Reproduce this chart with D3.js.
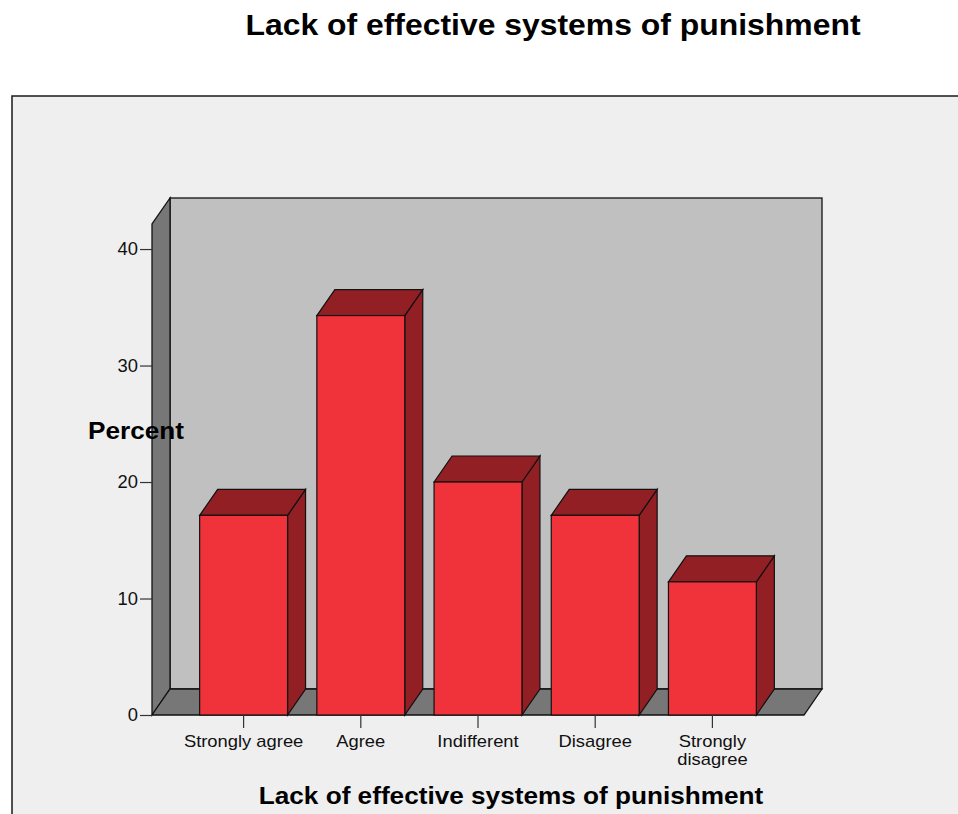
<!DOCTYPE html>
<html>
<head>
<meta charset="utf-8">
<script src="https://cdn.jsdelivr.net/npm/d3@7"></script>
<style>
html,body{margin:0;padding:0;background:#fff;}
svg{display:block;font-family:Arial,"Liberation Sans",sans-serif;}
</style>
</head>
<body>
<svg id="chart" width="958" height="814"></svg>
<script>
const categories = ["Strongly agree", "Agree", "Indifferent", "Disagree", "Strongly disagree"];
const percents = [17.14, 34.29, 20.0, 17.14, 11.43];
const yTicks = [0, 10, 20, 30, 40];
const title = "Lack of effective systems of punishment";
const xTitle = "Lack of effective systems of punishment";
const yTitle = "Percent";

const svg = d3.select("#chart");
const DX = 18, DY = -26;
const x0 = 152, x1 = 804, yBase = 715, yTop = 224;

const y = d3.scaleLinear().domain([0, 42.15]).range([yBase, yTop]);
const x = d3.scaleBand().domain(categories).range([185, 771]).paddingInner(0.25).paddingOuter(0.125);

// panel
svg.append("rect").attr("x", 12).attr("y", 96).attr("width", 980).attr("height", 760)
  .attr("fill", "#efefef").attr("stroke", "#1a1a1a").attr("stroke-width", 1.5);

// title
const titleEl = svg.append("text").attr("x", 553).attr("y", 35).attr("text-anchor", "middle")
  .attr("font-size", 29).attr("font-weight", "bold").attr("fill", "#000").text(title);

const stroke = "#111";
// back wall
svg.append("rect").attr("x", x0 + DX).attr("y", yTop + DY).attr("width", x1 - x0).attr("height", yBase - yTop)
  .attr("fill", "#c0c0c0").attr("stroke", stroke).attr("stroke-width", 1.3);
// left wall
svg.append("path").attr("d", `M${x0},${yBase}L${x0 + DX},${yBase + DY}L${x0 + DX},${yTop + DY}L${x0},${yTop}Z`)
  .attr("fill", "#777777").attr("stroke", stroke).attr("stroke-width", 1.3);
// floor
svg.append("path").attr("d", `M${x0},${yBase}L${x1},${yBase}L${x1 + DX},${yBase + DY}L${x0 + DX},${yBase + DY}Z`)
  .attr("fill", "#777777").attr("stroke", stroke).attr("stroke-width", 1.3);

// bars
const bars = svg.append("g");
categories.forEach((c, i) => {
  const v = percents[i];
  const bx = x(c), bw = x.bandwidth(), by = y(v);
  const g = bars.append("g");
  g.append("path").attr("d", `M${bx + bw},${by}L${bx + bw + DX},${by + DY}L${bx + bw + DX},${yBase + DY}L${bx + bw},${yBase}Z`)
    .attr("fill", "#911f24").attr("stroke", stroke).attr("stroke-width", 1.2);
  g.append("path").attr("d", `M${bx},${by}L${bx + DX},${by + DY}L${bx + bw + DX},${by + DY}L${bx + bw},${by}Z`)
    .attr("fill", "#921f24").attr("stroke", stroke).attr("stroke-width", 1.2);
  g.append("rect").attr("x", bx).attr("y", by).attr("width", bw).attr("height", yBase - by)
    .attr("fill", "#f0333b").attr("stroke", stroke).attr("stroke-width", 1.2);
});

// y axis
const yAxis = d3.axisLeft(y).tickValues(yTicks).tickSize(12).tickPadding(2).tickFormat(d3.format("d"));
const ya = svg.append("g").attr("transform", `translate(${x0},0)`).call(yAxis);
ya.select(".domain").remove();
ya.selectAll(".tick line").attr("stroke", "#333").attr("stroke-width", 1.2);
ya.selectAll(".tick text").attr("font-size", 17.5).attr("fill", "#111").attr("font-family", "Arial,'Liberation Sans',sans-serif");

// x axis
const xAxis = d3.axisBottom(x).tickSize(13).tickPadding(7);
const xa = svg.append("g").attr("transform", `translate(0,${yBase})`).call(xAxis);
xa.select(".domain").remove();
xa.selectAll(".tick line").attr("stroke", "#333").attr("stroke-width", 1.2);
xa.selectAll(".tick text").attr("font-size", 17).attr("fill", "#111").attr("font-family", "Arial,'Liberation Sans',sans-serif")
  .each(function(d) {
    const t = d3.select(this);
    if (d === "Strongly disagree") {
      t.text(null);
      t.append("tspan").attr("x", 0).attr("dy", "0.71em").text("Strongly");
      t.append("tspan").attr("x", 0).attr("dy", "1.08em").text("disagree");
      t.attr("dy", null);
    }
  });

// axis titles
const xTitleEl = svg.append("text").attr("x", 511).attr("y", 804).attr("text-anchor", "middle")
  .attr("font-size", 24).attr("font-weight", "bold").attr("fill", "#000").text(xTitle);
const yTitleEl = svg.append("text").attr("x", 88).attr("y", 439).attr("text-anchor", "start")
  .attr("font-size", 24).attr("font-weight", "bold").attr("fill", "#000").text(yTitle);

// horizontal stretch to match the reference's wide glyphs
function stretch(sel, k) {
  sel.each(function() {
    const t = d3.select(this);
    if (t.selectAll("tspan").size() > 0) {
      t.selectAll("tspan").each(function() {
        const l = this.getComputedTextLength();
        d3.select(this).attr("textLength", l * k).attr("lengthAdjust", "spacingAndGlyphs");
      });
    } else {
      const l = this.getComputedTextLength();
      t.attr("textLength", l * k).attr("lengthAdjust", "spacingAndGlyphs");
    }
  });
}
stretch(titleEl, 1.1);
stretch(xTitleEl, 1.09);
stretch(yTitleEl, 1.09);
stretch(xa.selectAll(".tick text"), 1.08);
stretch(ya.selectAll(".tick text"), 1.05);
</script>
</body>
</html>
